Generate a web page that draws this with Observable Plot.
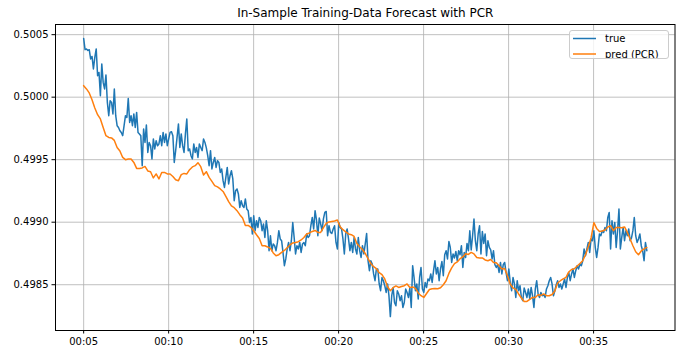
<!DOCTYPE html>
<html>
<head>
<meta charset="utf-8">
<script src="https://cdn.jsdelivr.net/npm/d3@7"></script>
<script src="https://cdn.jsdelivr.net/npm/@observablehq/plot@0.6"></script>
<style>
  body { margin: 0; background: #fff; }
  #wrap { position: relative; width: 682px; height: 358px; font-family: "DejaVu Sans", sans-serif; }
  #legend { position: absolute; left: 569px; top: 30px; width: 100px; height: 29px;
            border: 1px solid #cccccc; border-radius: 3px; background: rgba(255,255,255,0.8); box-sizing: border-box; }
</style>
</head>
<body>
<div id="wrap"></div>
<script>
const title = "In-Sample Training-Data Forecast with PCR";
const seriesNames = ["true", "pred (PCR)"];
const seriesColors = ["#1f77b4", "#ff7f0e"];
// both series are evenly spaced samples between these two times
const startTime = "00:05:00";
const endTime = "00:38:08";

const trueValues = [
0.500470,0.500380,0.500386,0.500374,0.500380,0.500306,0.500326,0.500226,0.500318,0.500386,
0.500172,0.500198,0.500012,0.500266,0.500118,0.500066,0.500178,0.499958,0.499852,0.499972,
0.499958,0.499866,0.500066,0.499852,0.499772,0.499758,0.499732,0.499718,0.499692,0.499772,
0.499852,0.499838,0.499990,0.499798,0.499852,0.499772,0.499866,0.499758,0.499878,0.499718,
0.499706,0.499692,0.499452,0.499746,0.499638,0.499778,0.499558,0.499638,0.499612,0.499506,
0.499666,0.499586,0.499652,0.499612,0.499626,0.499692,0.499612,0.499718,0.499638,0.499706,
0.499612,0.499666,0.499718,0.499724,0.499692,0.499478,0.499572,0.499678,0.499786,0.499598,
0.499706,0.499612,0.499558,0.499706,0.499826,0.499572,0.499586,0.499532,0.499506,0.499626,
0.499558,0.499598,0.499518,0.499626,0.499598,0.499572,0.499666,0.499638,0.499594,0.499532,
0.499452,0.499572,0.499426,0.499478,0.499518,0.499438,0.499492,0.499478,0.499398,0.499426,
0.499332,0.499278,0.499358,0.499438,0.499306,0.499372,0.499412,0.499346,0.499172,0.499252,
0.499266,0.499226,0.499118,0.499172,0.499132,0.499118,0.499186,0.499106,0.499092,0.498998,
0.499038,0.498906,0.499052,0.498932,0.499012,0.498958,0.499038,0.499012,0.498932,0.498986,
0.498878,0.499012,0.498932,0.498772,0.498892,0.498772,0.498826,0.498812,0.498772,0.498838,
0.498932,0.498866,0.498852,0.498758,0.498652,0.498706,0.498786,0.498838,0.498772,0.498852,
0.498998,0.498878,0.498746,0.498812,0.498786,0.498838,0.498758,0.498826,0.498838,0.498812,
0.498906,0.498878,0.498892,0.498972,0.499038,0.498946,0.499092,0.499018,0.498892,0.499034,
0.498986,0.498932,0.499026,0.499078,0.499086,0.498892,0.498972,0.498918,0.498910,0.498946,
0.498972,0.498838,0.498786,0.498998,0.498958,0.498946,0.498866,0.498746,0.498906,0.498946,
0.498866,0.498772,0.498838,0.498758,0.498878,0.498786,0.498746,0.498878,0.498772,0.498718,
0.498812,0.498746,0.498826,0.498910,0.498692,0.498612,0.498692,0.498666,0.498586,0.498532,
0.498626,0.498626,0.498506,0.498452,0.498558,0.498532,0.498492,0.498438,0.498506,0.498412,
0.498245,0.498412,0.498478,0.498358,0.498332,0.498452,0.498426,0.498372,0.498412,0.498318,
0.498358,0.498466,0.498438,0.498398,0.498474,0.498318,0.498652,0.498558,0.498452,0.498506,
0.498386,0.498558,0.498638,0.498466,0.498438,0.498518,0.498478,0.498546,0.498532,0.498586,
0.498518,0.498612,0.498692,0.498586,0.498638,0.498532,0.498626,0.498686,0.498572,0.498740,
0.498772,0.498706,0.498846,0.498798,0.498678,0.498746,0.498714,0.498766,0.498692,0.498772,
0.498740,0.498812,0.498638,0.498758,0.498718,0.498830,0.498772,0.498932,0.498778,0.498892,
0.499026,0.498852,0.498772,0.498906,0.498972,0.498746,0.498926,0.498830,0.498906,0.498732,
0.498852,0.498798,0.498778,0.498706,0.498772,0.498660,0.498638,0.498660,0.498598,0.498678,
0.498586,0.498660,0.498678,0.498598,0.498532,0.498626,0.498518,0.498452,0.498558,0.498506,
0.498398,0.498532,0.498452,0.498492,0.498398,0.498372,0.498474,0.498438,0.498398,0.498466,
0.498386,0.498478,0.498412,0.498318,0.498466,0.498532,0.498426,0.498398,0.498438,0.498412,
0.498420,0.498398,0.498466,0.498492,0.498532,0.498558,0.498506,0.498412,0.498452,0.498500,
0.498532,0.498478,0.498506,0.498466,0.498506,0.498546,0.498478,0.498558,0.498598,0.498532,
0.498586,0.498626,0.498558,0.498612,0.498652,0.498626,0.498666,0.498652,0.498692,0.498786,
0.498732,0.498786,0.498838,0.498758,0.498866,0.498852,0.498932,0.498798,0.498718,0.498798,
0.498906,0.498892,0.498932,0.498918,0.498958,0.498932,0.499038,0.499078,0.498786,0.499012,
0.498906,0.498998,0.498798,0.498932,0.499106,0.498786,0.498878,0.498958,0.498852,0.498932,
0.498892,0.498946,0.498852,0.498874,0.498932,0.499038,0.498892,0.498838,0.498866,0.498906,
0.498812,0.498772,0.498692,0.498838,0.498772
];

const predValues = [
0.500092,0.500066,0.500034,0.499980,0.499914,0.499860,0.499826,0.499758,0.499692,0.499678,
0.499674,0.499654,0.499598,0.499570,0.499518,0.499500,0.499506,0.499506,0.499478,0.499430,
0.499430,0.499434,0.499446,0.499410,0.499404,0.499354,0.499386,0.499346,0.499398,0.499398,
0.499386,0.499386,0.499366,0.499340,0.499332,0.499380,0.499390,0.499386,0.499420,0.499442,
0.499452,0.499476,0.499444,0.499378,0.499404,0.499358,0.499326,0.499292,0.499282,0.499266,
0.499246,0.499206,0.499164,0.499130,0.499116,0.499092,0.499060,0.499034,0.498974,0.498974,
0.498958,0.498932,0.498900,0.498870,0.498812,0.498812,0.498802,0.498790,0.498754,0.498732,
0.498740,0.498758,0.498774,0.498796,0.498818,0.498834,0.498838,0.498844,0.498858,0.498878,
0.498906,0.498914,0.498926,0.498934,0.498918,0.498918,0.498956,0.498990,0.499002,0.499006,
0.499010,0.499018,0.498964,0.498940,0.498922,0.498906,0.498900,0.498886,0.498830,0.498804,
0.498782,0.498750,0.498708,0.498670,0.498644,0.498628,0.498596,0.498580,0.498546,0.498484,
0.498452,0.498476,0.498490,0.498478,0.498486,0.498492,0.498506,0.498478,0.498482,0.498470,
0.498434,0.498412,0.498398,0.498430,0.498462,0.498468,0.498470,0.498468,0.498476,0.498500,
0.498532,0.498590,0.498634,0.498668,0.498682,0.498708,0.498722,0.498748,0.498742,0.498758,
0.498746,0.498718,0.498714,0.498714,0.498698,0.498692,0.498702,0.498678,0.498676,0.498652,
0.498626,0.498630,0.498572,0.498506,0.498474,0.498462,0.498426,0.498394,0.498366,0.498366,
0.498382,0.498398,0.498398,0.498420,0.498414,0.498426,0.498412,0.498412,0.498422,0.498450,
0.498514,0.498532,0.498546,0.498558,0.498602,0.498622,0.498628,0.498650,0.498670,0.498692,
0.498740,0.498804,0.498874,0.498996,0.498950,0.498926,0.498930,0.498938,0.498962,0.498972,
0.498932,0.498958,0.498958,0.498956,0.498962,0.498918,0.498866,0.498812,0.498764,0.498740,
0.498770,0.498786,0.498798
];

const xTickLabels = ["00:05","00:10","00:15","00:20","00:25","00:30","00:35"];
const yTicks = [0.4985, 0.4990, 0.4995, 0.5000, 0.5005];

// --- build tables ---
const toDate = (hhmmss) => new Date("2000-01-01T" + hhmmss + "Z");
const t0 = toDate(startTime).getTime();
const t1 = toDate(endTime).getTime();
const timeAt = (i, n) => new Date(t0 + (t1 - t0) * i / (n - 1));
const trueData = trueValues.map((v, i) => ({t: timeAt(i, trueValues.length), v}));
const predData = predValues.map((v, i) => ({t: timeAt(i, predValues.length), v}));
const xTicks = xTickLabels.map(s => toDate(s + ":00"));

// matplotlib-like 5% margins
const tPad = (t1 - t0) * 0.05;
const allV = trueValues.concat(predValues);
const vMin = d3.min(allV), vMax = d3.max(allV);
const vPad = (vMax - vMin) * 0.05;

const grid = {stroke: "#b0b0b0", strokeOpacity: 1, strokeWidth: 0.8};

const chart = Plot.plot({
  width: 682,
  height: 358,
  marginLeft: 55,
  marginRight: 7.5,
  marginTop: 24,
  marginBottom: 28,
  style: {fontFamily: "DejaVu Sans", fontSize: "10px", color: "black", background: "white", overflow: "visible"},
  x: {type: "utc", domain: [new Date(t0 - tPad), new Date(t1 + tPad)]},
  y: {domain: [vMin - vPad, vMax + vPad]},
  marks: [
    Plot.gridX(xTicks, grid),
    Plot.gridY(yTicks, grid),
    Plot.line(trueData, {x: "t", y: "v", stroke: seriesColors[0], strokeWidth: 1.5}),
    Plot.line(predData, {x: "t", y: "v", stroke: seriesColors[1], strokeWidth: 1.5}),
    Plot.frame({stroke: "black", strokeWidth: 1}),
    Plot.axisX(xTicks, {tickFormat: d3.utcFormat("%H:%M"), tickSize: 3.5, tickPadding: 3.5, label: null, fontSize: 10, stroke: "black"}),
    Plot.axisY(yTicks, {tickFormat: d3.format(".4f"), tickSize: 3.5, tickPadding: 3.5, label: null, fontSize: 10, stroke: "black"}),
    Plot.text([title], {frameAnchor: "top", dy: -8, lineAnchor: "bottom", fontSize: 12, fill: "black"})
  ]
});

const wrap = document.getElementById("wrap");
wrap.appendChild(chart);

// legend (upper right)
const legend = document.createElement("div");
legend.id = "legend";
const ns = "http://www.w3.org/2000/svg";
const lsvg = document.createElementNS(ns, "svg");
lsvg.setAttribute("width", "98");
lsvg.setAttribute("height", "27");
seriesNames.forEach((name, i) => {
  const y = 7.5 + i * 15.5;
  const ln = document.createElementNS(ns, "line");
  ln.setAttribute("x1", 3); ln.setAttribute("x2", 26);
  ln.setAttribute("y1", y); ln.setAttribute("y2", y);
  ln.setAttribute("stroke", seriesColors[i]); ln.setAttribute("stroke-width", 1.5);
  lsvg.appendChild(ln);
  const tx = document.createElementNS(ns, "text");
  tx.setAttribute("x", 35); tx.setAttribute("y", y);
  tx.setAttribute("dy", "0.35em");
  tx.setAttribute("font-size", "10");
  tx.setAttribute("font-family", "DejaVu Sans");
  tx.setAttribute("fill", "black");
  tx.textContent = name;
  lsvg.appendChild(tx);
});
legend.appendChild(lsvg);
wrap.appendChild(legend);
</script>
</body>
</html>
